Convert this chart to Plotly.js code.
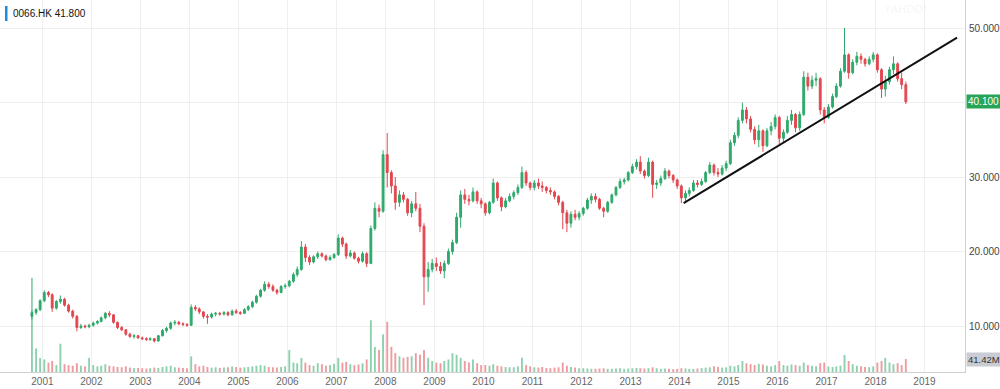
<!DOCTYPE html>
<html>
<head>
<meta charset="utf-8">
<script src="https://cdn.plot.ly/plotly-3.0.1.min.js"></script>
<style>
html,body{margin:0;padding:0;background:#fff;}
#chart{width:1000px;height:389px;}
</style>
</head>
<body>
<div id="chart"></div>
<script>
// Monthly OHLC of 0066.HK, Oct 2000 .. Aug 2018
const firstYear = 2000, firstMonth = 10;
const openP = [
  11.3, 11.8, 12.2,
  13.4, 14.5, 14.2, 12.4, 13.3, 13.6, 12.8, 12.0, 11.3, 9.8, 10.0, 9.9,
  10.1, 10.4, 10.6, 11.1, 11.7, 11.5, 10.5, 9.8, 9.5, 8.9, 8.6, 8.7,
  8.4, 8.3, 8.2, 8.3, 8.0, 8.7, 9.4, 9.7, 10.4, 10.5, 10.3, 10.2,
  10.1, 12.5, 12.3, 11.9, 11.3, 11.2, 11.6, 11.7, 11.6, 11.8, 11.5, 12.0,
  11.8, 11.7, 12.2, 12.6, 13.2, 14.0, 14.8, 15.6, 15.3, 14.8, 14.5, 15.3,
  15.4, 16.0, 16.9, 17.6, 20.6, 19.2, 18.6, 19.3, 19.7, 19.4, 18.9, 19.2,
  19.6, 21.8, 21.0, 19.4, 19.8, 19.1, 18.7, 19.7, 18.4, 23.1, 25.8, 25.4,
  33.0, 30.6, 28.8, 26.6, 27.6, 27.0, 25.2, 26.4, 25.8, 23.4, 16.6, 17.6,
  18.4, 18.0, 17.4, 18.4, 20.0, 21.2, 24.6, 27.6, 27.0, 26.8, 28.0, 26.8,
  26.4, 25.2, 26.6, 29.2, 27.2, 26.0, 26.8, 27.4, 27.9, 28.6, 30.6, 29.2,
  28.6, 29.2, 28.8, 28.6, 28.2, 28.0, 27.4, 26.6, 25.2, 23.8, 25.0, 24.6,
  25.1, 25.8, 26.9, 27.4, 27.0, 25.8, 25.4, 26.6, 27.6, 28.6, 29.4, 29.6,
  30.6, 31.4, 32.0, 30.8, 30.2, 32.0, 29.0, 29.2, 29.8, 30.8, 30.2, 29.6,
  28.8, 27.2, 27.8, 28.2, 29.2, 29.0, 29.4, 30.6, 31.6, 30.6, 30.4, 31.2,
  31.8, 34.6, 35.6, 37.6, 39.0, 37.8, 36.4, 35.0, 36.2, 34.2, 36.2, 36.8,
  38.0, 35.2, 36.0, 37.6, 38.4, 36.6, 38.4, 43.4, 42.2, 43.0, 43.2, 39.0,
  38.0, 39.4, 40.8, 42.2, 44.2, 46.4, 44.0, 45.4, 46.2, 45.8, 45.2, 45.8,
  46.4, 44.4, 41.8, 42.8, 44.4, 45.2, 43.2, 42.4
];
const highP = [
  12.1, 12.4, 13.6,
  14.8, 14.7, 14.4, 13.5, 14.1, 13.8, 13.0, 12.2, 11.5, 10.3, 10.2, 10.3,
  10.6, 10.8, 11.3, 11.9, 12.0, 11.6, 10.6, 10.0, 9.6, 9.1, 8.9, 8.8,
  8.6, 8.5, 8.5, 8.4, 8.8, 9.6, 9.9, 10.6, 10.8, 10.7, 10.5, 10.4,
  12.9, 12.8, 12.5, 12.0, 11.6, 11.8, 11.9, 11.9, 12.0, 12.0, 12.2, 12.3,
  12.0, 12.4, 12.8, 13.4, 14.2, 15.0, 16.0, 15.9, 15.6, 15.0, 15.5, 15.7,
  16.2, 17.2, 18.0, 21.4, 21.0, 19.5, 19.5, 20.0, 19.9, 19.6, 19.5, 19.8,
  22.3, 22.0, 21.2, 20.2, 20.0, 19.3, 20.0, 19.9, 23.5, 26.6, 26.3, 33.6,
  35.9, 30.9, 30.0, 28.2, 28.0, 27.2, 26.8, 28.0, 26.4, 23.8, 18.6, 19.0,
  19.2, 18.6, 18.8, 20.4, 21.6, 25.2, 28.2, 28.4, 27.6, 28.6, 28.2, 27.2,
  26.6, 26.8, 29.8, 29.4, 27.4, 27.2, 27.8, 28.2, 29.0, 31.4, 30.9, 29.4,
  29.6, 29.8, 29.4, 28.8, 28.6, 28.2, 27.6, 26.8, 25.6, 25.4, 25.6, 25.4,
  26.0, 27.2, 27.8, 27.8, 27.2, 26.0, 26.8, 27.8, 28.8, 29.8, 29.9, 30.8,
  31.8, 32.4, 32.8, 31.0, 32.6, 32.2, 29.6, 30.2, 31.2, 31.0, 30.4, 29.8,
  29.0, 28.2, 28.6, 29.6, 29.6, 29.8, 30.8, 32.0, 31.8, 31.2, 31.6, 32.2,
  35.0, 36.0, 38.0, 40.0, 39.4, 38.2, 36.8, 37.0, 36.4, 36.6, 37.4, 38.4,
  38.2, 36.4, 38.2, 39.0, 38.6, 38.8, 44.2, 44.0, 43.6, 44.0, 43.4, 39.4,
  39.8, 41.2, 42.6, 44.6, 50.0, 46.6, 45.8, 46.8, 46.6, 46.0, 46.2, 46.8,
  46.6, 44.6, 43.6, 44.8, 46.2, 45.4, 44.0, 42.8
];
const lowP = [
  10.9, 11.5, 12.0,
  13.2, 13.9, 11.9, 12.2, 13.0, 12.6, 11.8, 11.0, 9.3, 9.6, 9.7, 9.7,
  9.9, 10.2, 10.5, 10.9, 11.2, 10.3, 9.6, 9.3, 8.7, 8.4, 8.3, 8.3,
  8.1, 8.0, 8.0, 7.8, 7.9, 8.6, 9.1, 9.5, 10.1, 10.1, 10.0, 9.9,
  10.0, 12.0, 11.6, 11.0, 10.3, 11.0, 11.3, 11.4, 11.4, 11.3, 11.4, 11.6,
  11.5, 11.6, 12.0, 12.4, 13.0, 13.8, 14.6, 15.0, 14.6, 14.2, 14.4, 15.0,
  15.2, 15.8, 16.6, 17.4, 18.6, 18.2, 18.4, 19.0, 19.2, 18.7, 18.8, 19.0,
  19.4, 20.6, 19.0, 19.2, 18.9, 18.4, 18.5, 17.9, 18.3, 22.8, 24.6, 25.2,
  28.6, 27.8, 25.6, 26.0, 26.6, 24.8, 24.6, 25.4, 22.6, 12.8, 14.6, 17.2,
  17.4, 17.0, 16.4, 18.2, 19.6, 21.0, 23.2, 26.4, 26.2, 26.6, 26.4, 25.8,
  24.8, 25.0, 26.4, 26.8, 25.4, 25.8, 26.6, 27.0, 27.6, 28.4, 28.8, 28.2,
  28.2, 28.4, 28.0, 27.8, 27.6, 27.0, 26.2, 23.0, 22.6, 23.2, 24.2, 24.2,
  24.8, 25.6, 26.4, 26.6, 25.6, 24.6, 25.2, 26.4, 27.4, 28.4, 29.0, 29.4,
  30.4, 31.0, 30.4, 29.8, 30.0, 27.2, 28.4, 28.8, 29.6, 29.8, 29.2, 28.4,
  26.5, 26.6, 27.4, 28.0, 28.6, 28.8, 29.2, 30.4, 30.2, 30.0, 30.2, 30.8,
  31.6, 34.2, 35.2, 37.2, 37.2, 36.0, 34.4, 34.0, 33.4, 34.0, 35.6, 36.4,
  34.4, 34.6, 35.8, 37.0, 36.0, 36.2, 38.2, 41.6, 41.8, 42.2, 38.4, 37.2,
  37.8, 39.2, 40.6, 42.0, 44.0, 43.2, 43.8, 45.0, 45.2, 44.8, 45.0, 45.4,
  44.0, 40.6, 40.8, 42.4, 43.8, 42.8, 41.8, 39.8
];
const closeP = [
  11.8, 12.2, 13.4,
  14.5, 14.2, 12.4, 13.3, 13.6, 12.8, 12.0, 11.3, 9.8, 10.0, 9.9, 10.1,
  10.4, 10.6, 11.1, 11.7, 11.5, 10.5, 9.8, 9.5, 8.9, 8.6, 8.7, 8.4,
  8.3, 8.2, 8.3, 8.0, 8.7, 9.4, 9.7, 10.4, 10.5, 10.3, 10.2, 10.1,
  12.5, 12.3, 11.9, 11.3, 11.2, 11.6, 11.7, 11.6, 11.8, 11.5, 12.0, 11.8,
  11.7, 12.2, 12.6, 13.2, 14.0, 14.8, 15.6, 15.3, 14.8, 14.5, 15.3, 15.4,
  16.0, 16.9, 17.6, 20.6, 19.2, 18.6, 19.3, 19.7, 19.4, 18.9, 19.2, 19.6,
  21.8, 21.0, 19.4, 19.8, 19.1, 18.7, 19.7, 18.4, 23.1, 25.8, 25.4, 33.0,
  30.6, 28.8, 26.6, 27.6, 27.0, 25.2, 26.4, 25.8, 23.4, 16.6, 17.6, 18.4,
  18.0, 17.4, 18.4, 20.0, 21.2, 24.6, 27.6, 27.0, 26.8, 28.0, 26.8, 26.4,
  25.2, 26.6, 29.2, 27.2, 26.0, 26.8, 27.4, 27.9, 28.6, 30.6, 29.2, 28.6,
  29.2, 28.8, 28.6, 28.2, 28.0, 27.4, 26.6, 25.2, 23.8, 25.0, 24.6, 25.1,
  25.8, 26.9, 27.4, 27.0, 25.8, 25.4, 26.6, 27.6, 28.6, 29.4, 29.6, 30.6,
  31.4, 32.0, 30.8, 30.2, 32.0, 29.0, 29.2, 29.8, 30.8, 30.2, 29.6, 28.8,
  27.2, 27.8, 28.2, 29.2, 29.0, 29.4, 30.6, 31.6, 30.6, 30.4, 31.2, 31.8,
  34.6, 35.6, 37.6, 39.0, 37.8, 36.4, 35.0, 36.2, 34.2, 36.2, 36.8, 38.0,
  35.2, 36.0, 37.6, 38.4, 36.6, 38.4, 43.4, 42.2, 43.0, 43.2, 39.0, 38.0,
  39.4, 40.8, 42.2, 44.2, 46.4, 44.0, 45.4, 46.2, 45.8, 45.2, 45.8, 46.4,
  44.4, 41.8, 42.8, 44.4, 45.2, 43.2, 42.4, 40.1
];
// volume in millions of shares (weekly scale)
const volumeM = [
  300, 75, 45,
  40, 30, 35, 22, 90, 25, 22, 20, 28, 20, 18, 45,
  22, 18, 20, 25, 20, 18, 16, 15, 18, 14, 12, 13,
  12, 11, 12, 14, 13, 16, 18, 20, 15, 14, 13, 12,
  50, 25, 18, 20, 16, 14, 15, 13, 14, 15, 18, 16,
  14, 15, 16, 18, 20, 22, 20, 16, 15, 14, 16, 18,
  70, 30, 28, 45, 30, 22, 20, 28, 25, 20, 22, 26,
  45, 30, 32, 25, 22, 24, 28, 40, 165, 80, 70, 120,
  160, 80, 60, 50, 45, 48, 50, 60, 55, 70, 45, 35,
  30, 28, 35, 40, 60, 55, 45, 35, 30, 40, 28, 22,
  22, 20, 25, 20, 18, 16, 15, 15, 18, 45, 22, 18,
  15, 14, 16, 13, 12, 14, 15, 30, 20, 16, 14, 12,
  12, 11, 10, 10, 11, 12, 10, 10, 11, 12, 10, 11,
  12, 13, 12, 11, 12, 15, 12, 10, 11, 10, 9, 10,
  12, 11, 10, 10, 11, 12, 14, 15, 18, 16, 14, 15,
  20, 18, 22, 35, 28, 25, 22, 26, 24, 20, 18, 22,
  35, 22, 20, 24, 22, 20, 30, 22, 20, 18, 28, 30,
  18, 16, 18, 20, 54, 35, 25, 20, 18, 16, 15, 18,
  30, 35, 45, 30, 25, 28, 22, 41.42
];
const yTicks = [10, 20, 30, 40, 50];
const trendX = ['2014-02-01', '2019-09-01'];
const trendY = [26.5, 48.7];
const legendText = '0066.HK 41.800';
const lastPrice = 40.1;
const lastVolume = 41.42;

// month dates (mid-month)
const dates = closeP.map((_, i) => {
  const m0 = firstMonth - 1 + i;
  const y = firstYear + Math.floor(m0 / 12);
  const m = (m0 % 12) + 1;
  return y + '-' + String(m).padStart(2, '0') + '-15';
});

const UP = '#2eaa6c', DOWN = '#e2474f';
const volColors = closeP.map((c, i) => c >= openP[i] ? 'rgba(46,170,108,0.55)' : 'rgba(226,71,79,0.55)');

const traces = [
  {
    type: 'bar', x: dates, y: volumeM, yaxis: 'y2',
    marker: {color: volColors, line: {width: 0}},
    width: 14 * 86400000, hoverinfo: 'skip'
  },
  {
    type: 'candlestick', x: dates, open: openP, high: highP, low: lowP, close: closeP,
    increasing: {line: {color: UP, width: 1}, fillcolor: UP},
    decreasing: {line: {color: DOWN, width: 1}, fillcolor: DOWN},
    whiskerwidth: 0, hoverinfo: 'skip'
  }
];

const W = 965, H = 372;
const layout = {
  width: 1000, height: 389,
  margin: {l: 0, r: 35, t: 0, b: 17, pad: 0},
  paper_bgcolor: '#fff', plot_bgcolor: '#fff',
  showlegend: false,
  font: {family: 'Liberation Sans, Arial, sans-serif', size: 10, color: '#555'},
  xaxis: {
    type: 'date', range: ['2000-02-20', '2019-10-30'],
    dtick: 'M12', tick0: '2000-01-01', tickformat: '%Y',
    showgrid: true, gridcolor: '#efefef', gridwidth: 1,
    showline: true, linecolor: '#d0d0d0', linewidth: 1,
    ticks: '', tickfont: {size: 10, color: '#666'},
    rangeslider: {visible: false}, fixedrange: true, zeroline: false
  },
  yaxis: {
    side: 'right', range: [3.83, 53.76],
    tickvals: yTicks, tickformat: '.3f',
    showgrid: true, gridcolor: '#efefef',
    showline: true, linecolor: '#d0d0d0', linewidth: 1,
    ticks: '', ticklabelstandoff: 1, tickfont: {size: 10, color: '#444'},
    zeroline: false, fixedrange: true
  },
  yaxis2: {
    overlaying: 'y', range: [0, 1185], visible: false, fixedrange: true
  },
  shapes: [
    {type: 'line', xref: 'x', yref: 'y', x0: trendX[0], y0: trendY[0], x1: trendX[1], y1: trendY[1],
     line: {color: '#111', width: 2}},
    {type: 'rect', xref: 'paper', yref: 'paper', x0: 5 / W, x1: 7.5 / W, y0: 1 - 21 / H, y1: 1 - 6 / H,
     fillcolor: '#1a8be0', line: {width: 0}}
  ],
  annotations: [
    {xref: 'paper', yref: 'paper', x: 11 / W, y: 1 - 13.5 / H, xanchor: 'left', yanchor: 'middle',
     text: legendText, showarrow: false, font: {size: 10, color: '#111'}},
    {xref: 'paper', yref: 'y', x: 1, y: lastPrice, xanchor: 'left', yanchor: 'middle', xshift: 1,
     text: lastPrice.toFixed(3), showarrow: false, bgcolor: '#26a556', borderpad: 1,
     font: {size: 10, color: '#fff'}},
    {xref: 'paper', yref: 'y2', x: 1, y: lastVolume, xanchor: 'left', yanchor: 'middle', xshift: 1,
     text: lastVolume.toFixed(2) + 'M', showarrow: false, bgcolor: '#c9ccd3', borderpad: 1,
     font: {size: 9.5, color: '#333'}},
    {xref: 'paper', yref: 'paper', x: 905 / W, y: 1 - 9 / H, xanchor: 'center', yanchor: 'middle',
     text: '<b>YAHOO!</b>', showarrow: false, font: {size: 11, color: 'rgba(0,0,0,0.045)'}},
    {xref: 'paper', yref: 'paper', x: 905 / W, y: 1 - 18 / H, xanchor: 'center', yanchor: 'middle',
     text: 'FINANCE', showarrow: false, font: {size: 6, color: 'rgba(0,0,0,0.045)'}}
  ]
};

Plotly.newPlot('chart', traces, layout, {displayModeBar: false, staticPlot: true});
</script>
</body>
</html>
